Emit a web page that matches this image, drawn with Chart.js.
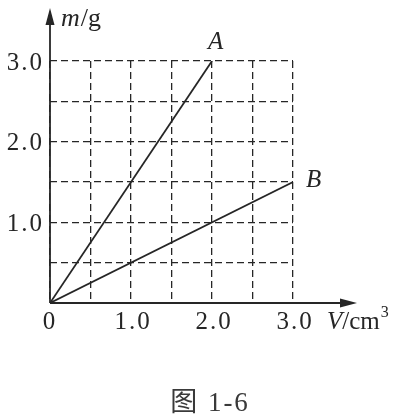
<!DOCTYPE html>
<html>
<head>
<meta charset="utf-8">
<script src="https://cdn.jsdelivr.net/npm/chart.js@4/dist/chart.umd.min.js"></script>
<style>
  html, body { margin: 0; padding: 0; background: #fff; }
  #wrap { width: 403px; height: 416px; position: relative; }
</style>
</head>
<body>
<div id="wrap"><canvas id="chart" width="403" height="416"></canvas></div>
<script>
// data
const seriesNames = ["A", "B"];
const volumeA = [0, 2.0];
const massA = [0, 3.0];
const volumeB = [0, 3.0];
const massB = [0, 1.5];
const xTickValues = [0, 1.0, 2.0, 3.0];
const yTickValues = [1.0, 2.0, 3.0];
const gridStep = 0.5;
const xAxisTitle = ["V", "/cm", "3"];
const yAxisTitle = ["m", "/g"];
const caption = "图 1-6";

const ink = "#262626";
const serif = "'Liberation Serif', 'DejaVu Serif', serif";

function toPoints(xs, ys) {
  return xs.map((x, i) => ({ x: x, y: ys[i] }));
}

// tick labels, axis arrows, titles, line names, caption
const decorations = {
  id: "decorations",
  afterDraw(chart) {
    const ctx = chart.ctx;
    const xs = chart.scales.x, ys = chart.scales.y;
    const x0 = xs.getPixelForValue(0), y0 = ys.getPixelForValue(0);
    ctx.save();
    ctx.strokeStyle = ink;
    ctx.fillStyle = ink;
    ctx.lineWidth = 1.8;

    // axes with arrows
    ctx.beginPath();
    ctx.moveTo(x0, y0);
    ctx.lineTo(x0, 16);
    ctx.moveTo(x0, y0);
    ctx.lineTo(348, y0);
    ctx.stroke();
    ctx.beginPath();
    ctx.moveTo(x0, 8);
    ctx.lineTo(x0 - 4.5, 25);
    ctx.lineTo(x0 + 4.5, 25);
    ctx.closePath();
    ctx.fill();
    ctx.beginPath();
    ctx.moveTo(357, y0);
    ctx.lineTo(340, y0 - 4.5);
    ctx.lineTo(340, y0 + 4.5);
    ctx.closePath();
    ctx.fill();

    // tick labels
    ctx.font = "25px " + serif;
    ctx.letterSpacing = "2px";
    ctx.textAlign = "center";
    ctx.textBaseline = "middle";
    xTickValues.forEach(v => {
      const label = v === 0 ? "0" : v.toFixed(1);
      ctx.fillText(label, xs.getPixelForValue(v) + (v === 0 ? 0 : 2), y0 + 19);
    });
    ctx.textAlign = "right";
    yTickValues.forEach(v => {
      ctx.fillText(v.toFixed(1), x0 - 6, ys.getPixelForValue(v) + 2);
    });
    ctx.letterSpacing = "0px";

    // axis titles
    ctx.textAlign = "left";
    ctx.textBaseline = "alphabetic";
    ctx.font = "italic 26px " + serif;
    ctx.fillText(yAxisTitle[0], 61, 26);
    let w = ctx.measureText(yAxisTitle[0]).width;
    ctx.font = "26px " + serif;
    ctx.fillText(yAxisTitle[1], 61 + w + 1, 26);

    ctx.font = "italic 25px " + serif;
    ctx.fillText(xAxisTitle[0], 327, y0 + 26);
    w = ctx.measureText(xAxisTitle[0]).width;
    ctx.font = "25px " + serif;
    ctx.fillText(xAxisTitle[1], 327 + w, y0 + 26);
    const w2 = ctx.measureText(xAxisTitle[1]).width;
    ctx.font = "16px " + serif;
    ctx.fillText(xAxisTitle[2], 327 + w + w2 + 1, y0 + 14);

    // line names at their end points
    ctx.font = "italic 25px " + serif;
    const metaA = chart.getDatasetMeta(0).data;
    const metaB = chart.getDatasetMeta(1).data;
    const endA = metaA[metaA.length - 1], endB = metaB[metaB.length - 1];
    ctx.fillText(seriesNames[0], endA.x - 4, endA.y - 12);
    ctx.fillText(seriesNames[1], endB.x + 13, endB.y + 5);

    // caption
    ctx.font = "27px " + serif + ", 'Noto Sans CJK SC'";
    ctx.letterSpacing = "2px";
    ctx.textAlign = "center";
    ctx.fillStyle = "#3a3a3a";
    ctx.fillText(caption, 210, 411);
    ctx.restore();
  }
};

const gridOptions = {
  display: true,
  color: ink,
  lineWidth: 1.3,
  drawTicks: false
};

new Chart(document.getElementById("chart").getContext("2d"), {
  type: "scatter",
  data: {
    datasets: [
      { label: seriesNames[0], data: toPoints(volumeA, massA) },
      { label: seriesNames[1], data: toPoints(volumeB, massB) }
    ].map(ds => Object.assign(ds, {
      showLine: true,
      borderColor: ink,
      borderWidth: 1.8,
      pointRadius: 0,
      fill: false,
      tension: 0
    }))
  },
  options: {
    responsive: false,
    animation: false,
    layout: { padding: { left: 50, top: 61, right: 110, bottom: 113 } },
    plugins: { legend: { display: false }, tooltip: { enabled: false } },
    scales: {
      x: {
        type: "linear",
        min: 0,
        max: 3.0,
        ticks: { display: false, stepSize: gridStep },
        grid: gridOptions,
        border: { display: false, dash: [7, 4] }
      },
      y: {
        type: "linear",
        min: 0,
        max: 3.0,
        ticks: { display: false, stepSize: gridStep },
        grid: gridOptions,
        border: { display: false, dash: [7, 4] }
      }
    }
  },
  plugins: [decorations]
});
</script>
</body>
</html>
